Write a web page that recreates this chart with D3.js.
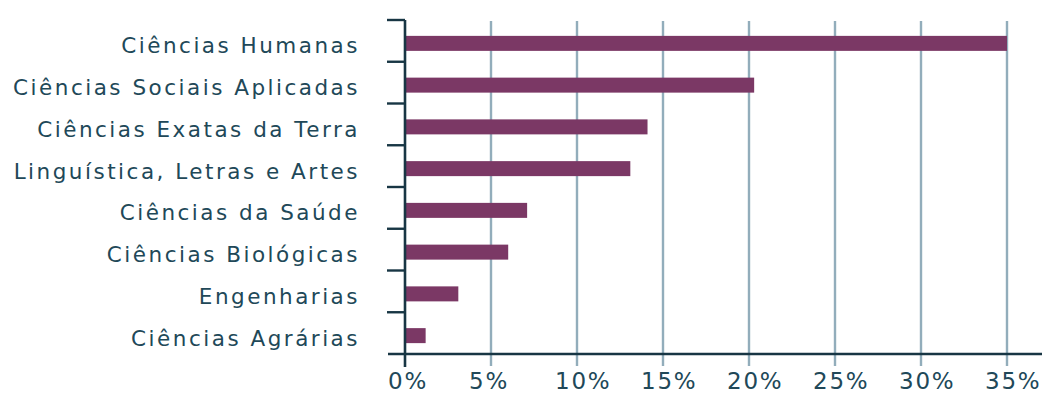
<!DOCTYPE html>
<html>
<head>
<meta charset="utf-8">
<script src="https://cdn.jsdelivr.net/npm/d3@7"></script>
<style>
  html, body { margin: 0; padding: 0; background: #ffffff; }
  svg { display: block; }
</style>
</head>
<body>
<svg id="chart" width="1055" height="396"></svg>
<script>
const categories = [
  "Ciências Humanas",
  "Ciências Sociais Aplicadas",
  "Ciências Exatas da Terra",
  "Linguística, Letras e Artes",
  "Ciências da Saúde",
  "Ciências Biológicas",
  "Engenharias",
  "Ciências Agrárias"
];
const values = [35.0, 20.3, 14.1, 13.1, 7.1, 6.0, 3.1, 1.2];
const tickValues = [0, 5, 10, 15, 20, 25, 30, 35];
const tickLabels = ["0%", "5%", "10%", "15%", "20%", "25%", "30%", "35%"];

(function () {
const plotLeft = 405, plotRight = 1007, plotTop = 20, plotBottom = 354;
const barColor = "#7b3865";
const gridColor = "#92adbb";
const axisColor = "#183644";
const textColor = "#214858";
const font = "'DejaVu Sans', sans-serif";

const svg = d3.select("#chart");

const x = d3.scaleLinear().domain([0, 35]).range([plotLeft, plotRight]);
const y = d3.scaleBand().domain(categories).range([plotTop, plotBottom]).paddingInner(0).paddingOuter(0);
const barH = 15;

// gridlines
svg.append("g").selectAll("line")
  .data(tickValues.filter(v => v > 0))
  .join("line")
  .attr("x1", d => x(d)).attr("x2", d => x(d))
  .attr("y1", plotTop + 1).attr("y2", plotBottom + 12)
  .attr("stroke", gridColor).attr("stroke-width", 2.4);

// bars
svg.append("g").selectAll("rect")
  .data(categories)
  .join("rect")
  .attr("x", x(0) + 1)
  .attr("y", (d) => y(d) + y.bandwidth() / 2 - barH / 2 + 2.5)
  .attr("width", (d, i) => x(values[i]) - x(0) - 1)
  .attr("height", barH)
  .attr("fill", barColor);

// horizontal axis line
svg.append("line")
  .attr("x1", plotLeft - 17).attr("x2", 1042)
  .attr("y1", plotBottom).attr("y2", plotBottom)
  .attr("stroke", axisColor).attr("stroke-width", 2.4);

// vertical axis line
svg.append("line")
  .attr("x1", plotLeft).attr("x2", plotLeft)
  .attr("y1", plotTop).attr("y2", plotBottom + 13)
  .attr("stroke", axisColor).attr("stroke-width", 2.6);

// y ticks at band boundaries
const boundaries = categories.map(c => y(c));
svg.append("g").selectAll("line")
  .data(boundaries)
  .join("line")
  .attr("x1", plotLeft - 18).attr("x2", plotLeft)
  .attr("y1", d => d).attr("y2", d => d)
  .attr("stroke", axisColor).attr("stroke-width", 2.4);

// category labels
svg.append("g").selectAll("text")
  .data(categories)
  .join("text")
  .attr("x", 360)
  .attr("y", d => y(d) + y.bandwidth() / 2 + 5)
  .attr("text-anchor", "end")
  .attr("dominant-baseline", "central")
  .attr("font-family", font)
  .attr("font-size", 21.5)
  .attr("letter-spacing", 2.5)
  .attr("fill", textColor)
  .text(d => d);

// x tick labels
svg.append("g").selectAll("text")
  .data(tickValues)
  .join("text")
  .attr("x", d => x(d) - (d === 0 ? 17 : 22))
  .attr("y", 389)
  .attr("text-anchor", "start")
  .attr("font-family", font)
  .attr("font-size", 23)
  .attr("letter-spacing", 1.8)
  .attr("fill", textColor)
  .text((d, i) => tickLabels[i]);
})();
</script>
</body>
</html>
